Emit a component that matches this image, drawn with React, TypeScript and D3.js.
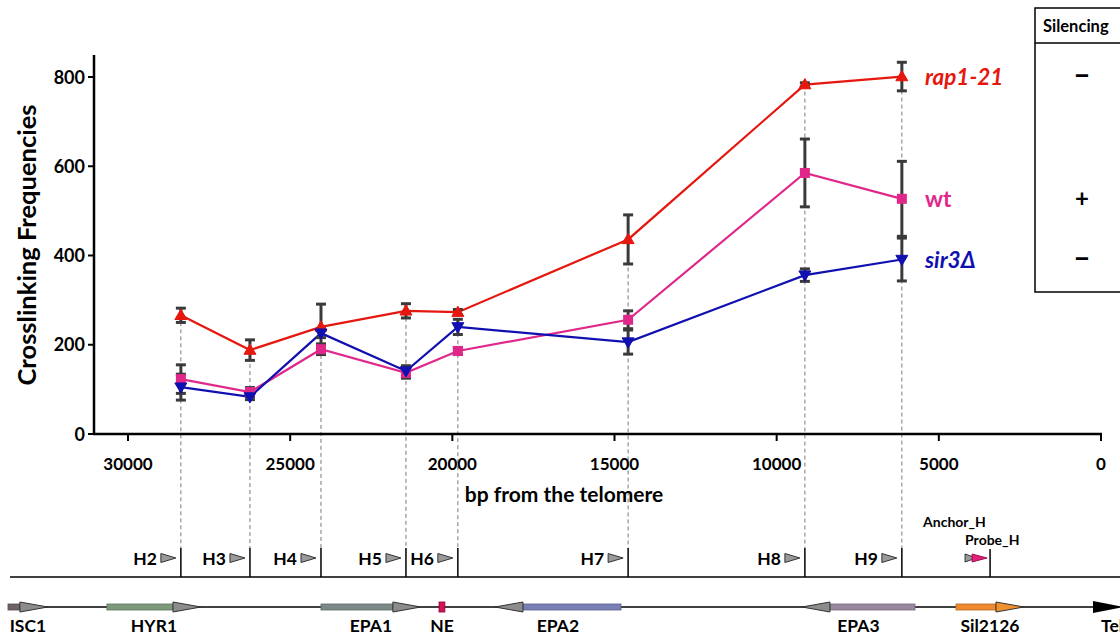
import React from "react";
import * as d3 from "d3";

// ---- data ----
const probes = ["H2", "H3", "H4", "H5", "H6", "H7", "H8", "H9"];
const probeBp = [28370, 26240, 24050, 21430, 19830, 14580, 9130, 6140];
const rap1Values = [266, 188, 240, 276, 273, 436, 783, 801];
const rap1Err = [16, 23, 51, 16, 6, 55, 4, 32];
const wtValues = [123, 94, 190, 137, 186, 256, 585, 527];
const wtErr = [32, 10, 12, 12, 8, 20, 76, 84];
const sir3Values = [105, 83, 226, 141, 240, 206, 356, 391];
const sir3Err = [29, 6, 10, 12, 17, 27, 14, 48];
const xTicks = [30000, 25000, 20000, 15000, 10000, 5000, 0];
const yTicks = [0, 200, 400, 600, 800];
const silencing = ["–", "+", "–"];
const anchorBp = 3420;

const genes = [
  { name: "ISC1", from: 33700, to: 32470, body: "#6e6266", head: "#8c8c8c" },
  { name: "HYR1", from: 30650, to: 27750, body: "#7d9a7d", head: "#8c8c8c" },
  { name: "EPA1", from: 24050, to: 20970, body: "#7b8a88", head: "#8c8c8c" },
  { name: "EPA2", from: 14800, to: 18685, body: "#7880b6", head: "#8c8c8c" },
  { name: "EPA3", from: 5735, to: 9220, body: "#9a88a0", head: "#8c8c8c" },
  { name: "Sil2126", from: 4470, to: 2375, body: "#f08a30", head: "#f0902f" },
];
const neBp = [20410, 20230];

const FONT = "Lato, 'Liberation Sans', sans-serif";

export default function App() {
  const x = d3.scaleLinear().domain([30000, 0]).range([128, 1101]);
  const y = d3.scaleLinear().domain([0, 800]).range([434, 77]);

  const series = [
    { name: "rap1-21", vals: rap1Values, err: rap1Err, color: "#e5170f", shape: "up", italic: true },
    { name: "wt", vals: wtValues, err: wtErr, color: "#e0288a", shape: "square", italic: false },
    { name: "sir3Δ", vals: sir3Values, err: sir3Err, color: "#1010b0", shape: "down", italic: true },
  ];

  const line = d3
    .line<number>()
    .x((_, i) => x(probeBp[i]))
    .y((d) => y(d));

  const mapY = 577;
  const geneY = 607;
  const headLen = 28;

  const marker = (shape: string, cx: number, cy: number, color: string, key: string) => {
    if (shape === "square")
      return <rect key={key} x={cx - 5} y={cy - 5} width={10} height={10} fill={color} />;
    const s = 6;
    const pts =
      shape === "up"
        ? `${cx},${cy - s} ${cx - s},${cy + s * 0.7} ${cx + s},${cy + s * 0.7}`
        : `${cx},${cy + s} ${cx - s},${cy - s * 0.7} ${cx + s},${cy - s * 0.7}`;
    return <polygon key={key} points={pts} fill={color} stroke={color} strokeWidth={1} />;
  };

  return (
    <svg
      width={1120}
      height={635}
      style={{ position: "absolute", left: 0, top: 0, background: "#fff" }}
      fontFamily={FONT}
    >
      {/* dashed guide lines */}
      {probeBp.map((b, i) => (
        <line
          key={"g" + i}
          x1={x(b)}
          x2={x(b)}
          y1={y(rap1Values[i])}
          y2={548}
          stroke="#7a7a7a"
          strokeWidth={1}
          strokeDasharray="4,3"
        />
      ))}

      {/* axes */}
      <line x1={94} x2={94} y1={55} y2={435} stroke="#000" strokeWidth={2.5} />
      <line x1={93} x2={1102} y1={434} y2={434} stroke="#000" strokeWidth={2.5} />
      {yTicks.map((t) => (
        <g key={"yt" + t}>
          <line x1={88} x2={94} y1={y(t)} y2={y(t)} stroke="#000" strokeWidth={2} />
          <text x={85} y={y(t) + 6.5} textAnchor="end" fontSize={18} fontWeight="bold">
            {t}
          </text>
        </g>
      ))}
      {xTicks.map((t) => (
        <g key={"xt" + t}>
          <line x1={x(t)} x2={x(t)} y1={434} y2={441} stroke="#000" strokeWidth={2} />
          <text x={x(t)} y={470} textAnchor="middle" fontSize={17} fontWeight="bold">
            {t}
          </text>
        </g>
      ))}
      <text x={564} y={502} textAnchor="middle" fontSize={21} fontWeight="bold">
        bp from the telomere
      </text>
      <text
        transform="translate(36,245) rotate(-90)"
        textAnchor="middle"
        fontSize={25.5}
        fontWeight="bold"
      >
        Crosslinking Frequencies
      </text>

      {/* series lines */}
      {series.map((s) => (
        <path key={"l" + s.name} d={line(s.vals) || ""} fill="none" stroke={s.color} strokeWidth={2.2} />
      ))}
      {/* error bars */}
      {series.map((s) =>
        s.vals.map((v, i) => {
          const cx = x(probeBp[i]);
          const t = y(v + s.err[i]);
          const b = y(v - s.err[i]);
          return (
            <g key={"e" + s.name + i} stroke="#3a3a3a" strokeWidth={3}>
              <line x1={cx} x2={cx} y1={t} y2={b} />
              <line x1={cx - 5} x2={cx + 5} y1={t} y2={t} />
              <line x1={cx - 5} x2={cx + 5} y1={b} y2={b} />
            </g>
          );
        })
      )}
      {series.map((s) =>
        s.vals.map((v, i) => marker(s.shape, x(probeBp[i]), y(v), s.color, "m" + s.name + i))
      )}

      {/* series labels */}
      {series.map((s) => (
        <text
          key={"sl" + s.name}
          x={925}
          y={y(s.vals[s.vals.length - 1]) + 8}
          fill={s.color}
          fontSize={22.5}
          fontWeight="bold"
          fontStyle={s.italic ? "italic" : "normal"}
        >
          {s.name}
        </text>
      ))}

      {/* silencing table */}
      <rect x={1035} y={8} width={100} height={284} fill="none" stroke="#000" strokeWidth={1.5} />
      <line x1={1035} x2={1120} y1={43} y2={43} stroke="#000" strokeWidth={1.5} />
      <text x={1043} y={32} fontSize={16.5} fontWeight="bold">
        Silencing
      </text>
      {series.map((s, i) => (
        <text
          key={"sg" + i}
          x={1082}
          y={y(s.vals[s.vals.length - 1]) + 8}
          textAnchor="middle"
          fontSize={silencing[i] === "+" ? 24 : 30}
          fontWeight="bold"
        >
          {silencing[i]}
        </text>
      ))}

      {/* probe map */}
      <line x1={10} x2={1120} y1={mapY} y2={mapY} stroke="#000" strokeWidth={1.5} />
      {probeBp.map((b, i) => {
        const bx = x(b);
        const tx = bx - 5;
        return (
          <g key={"p" + i}>
            <line x1={bx} x2={bx} y1={548} y2={mapY} stroke="#000" strokeWidth={1.5} />
            <polygon
              points={`${tx},558 ${tx - 15},553.5 ${tx - 15},562.5`}
              fill="#9a9a9a"
              stroke="#333"
              strokeWidth={1}
            />
            <text x={tx - 19} y={564.5} textAnchor="end" fontSize={17.5} fontWeight="bold">
              {probes[i]}
            </text>
          </g>
        );
      })}
      {(() => {
        const ax = x(anchorBp);
        return (
          <g>
            <line x1={ax} x2={ax} y1={549} y2={mapY} stroke="#000" strokeWidth={1.5} />
            <polygon points={`${ax - 14},558 ${ax - 25},554 ${ax - 25},562`} fill="#9a9a9a" stroke="#333" strokeWidth={1} />
            <polygon points={`${ax - 3},558 ${ax - 18},554 ${ax - 18},562`} fill="#e0207a" stroke="#a01050" strokeWidth={1} />
            <text x={ax - 67} y={527} fontSize={14} fontWeight="bold">
              Anchor_H
            </text>
            <text x={ax - 25} y={545} fontSize={14} fontWeight="bold">
              Probe_H
            </text>
          </g>
        );
      })()}

      {/* gene track */}
      <line x1={8} x2={1100} y1={geneY} y2={geneY} stroke="#000" strokeWidth={1.5} />
      {genes.map((g) => {
        const x0 = x(g.from);
        const x1 = x(g.to);
        const dir = x1 > x0 ? 1 : -1;
        const hb = x1 - dir * headLen;
        const bodyL = Math.min(x0, hb);
        const bodyW = Math.abs(hb - x0);
        return (
          <g key={g.name}>
            <rect x={bodyL} y={geneY - 3} width={bodyW} height={6} fill={g.body} stroke={d3.color(g.body)!.darker(0.8).toString()} strokeWidth={0.8} />
            <polygon
              points={`${x1},${geneY} ${hb},${geneY - 5} ${hb},${geneY + 5}`}
              fill={g.head}
              stroke="#333"
              strokeWidth={1}
            />
            <text x={(x0 + x1) / 2} y={632} textAnchor="middle" fontSize={17.5} fontWeight="bold">
              {g.name}
            </text>
          </g>
        );
      })}
      <rect x={x(neBp[0])} y={geneY - 5} width={x(neBp[1]) - x(neBp[0])} height={10} fill="#d8105a" stroke="#800030" strokeWidth={0.8} />
      <text x={(x(neBp[0]) + x(neBp[1])) / 2} y={632} textAnchor="middle" fontSize={17.5} fontWeight="bold">
        NE
      </text>
      <polygon points={`1124,${geneY} 1093,${geneY - 6} 1093,${geneY + 6}`} fill="#000" />
      <text x={1101} y={632} fontSize={17.5} fontWeight="bold">
        Tel
      </text>
    </svg>
  );
}
